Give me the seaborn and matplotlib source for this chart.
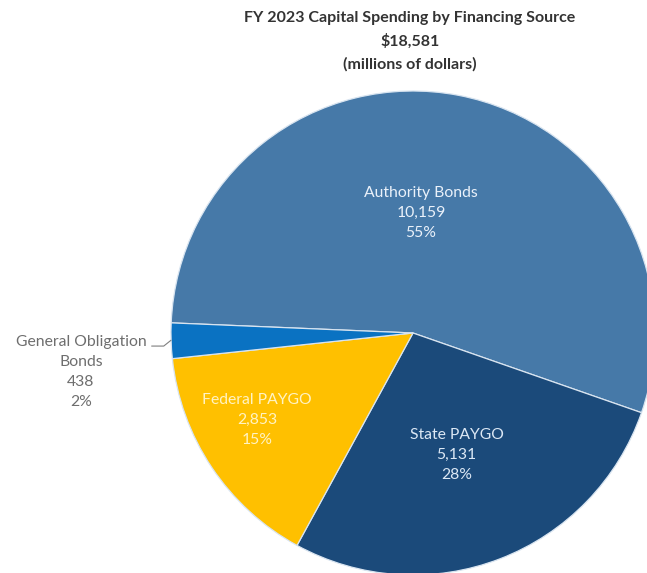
import matplotlib
matplotlib.use("Agg")
import matplotlib.pyplot as plt
import seaborn as sns

# Financing sources, FY 2023 (millions of dollars)
sources = ["Authority Bonds", "State PAYGO", "Federal PAYGO", "General Obligation\nBonds"]
amounts = [10159, 5131, 2853, 438]
colors = ["#4679A8", "#1B4A7A", "#FFC000", "#0A72C2"]
text_colors = ["#EAF1FA", "#DCE8F5", "#FFF3C4", "#6E6E6E"]

title_lines = ["FY 2023 Capital Spending by Financing Source",
               "$18,581",
               "(millions of dollars)"]

sns.set_theme(style="white")
plt.rcParams["font.family"] = ["Lato", "DejaVu Sans"]

W, H = 647, 573
fig = plt.figure(figsize=(W / 100, H / 100), dpi=100)
fig.patch.set_facecolor("white")

cx, cy, r = 413, 333, 242
ax = fig.add_axes([(cx - r) / W, (H - cy - r) / H, 2 * r / W, 2 * r / H])

wedges, _ = ax.pie(amounts, colors=colors, startangle=177.6, counterclock=False,
                   radius=1.0, center=(0, 0),
                   wedgeprops=dict(edgecolor="#D8E4F0", linewidth=0.9))
for w in wedges:
    w.set_clip_on(False)
ax.set_xlim(-1, 1)
ax.set_ylim(-1, 1)
ax.set_aspect("equal")
ax.axis("off")

total = sum(amounts)
# label anchor points (axes data units, pie radius = 1)
label_xy = [(0.033, 0.495), (0.18, -0.505), (-0.645, -0.360), (-1.372, -0.160)]
for name, val, (lx, ly), tc in zip(sources, amounts, label_xy, text_colors):
    pct = round(val / total * 100)
    txt = f"{name}\n{val:,}\n{pct}%"
    ax.text(lx, ly, txt, ha="center", va="center", fontsize=11.3, color=tc,
            linespacing=1.55, clip_on=False)

# leader line for the small slice
ax.plot([-1.08, -1.03, -1.0], [-0.054, -0.054, -0.03], color="#7F7F7F",
        linewidth=0.8, clip_on=False)

for i, line in enumerate(title_lines):
    fig.text(410 / W, 1 - (18 + 23 * i) / H, line, ha="center", va="center",
             fontsize=11.5, fontweight="bold", color="#333333")

fig.savefig("out.png", dpi=100, facecolor="white")
